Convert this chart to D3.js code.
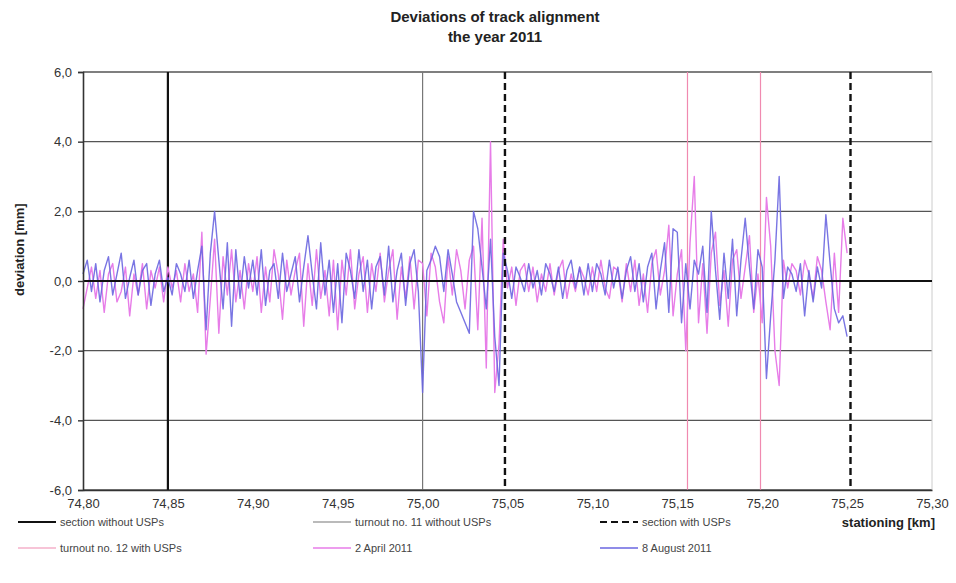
<!DOCTYPE html>
<html>
<head>
<meta charset="utf-8">
<style>
  body { margin: 0; background: #fff; font-family: "Liberation Sans", Arial, sans-serif; }
  svg text { fill: #222; }
</style>
<title>Deviations of track alignment</title>
</head>
<body>
<script src="https://cdn.jsdelivr.net/npm/d3@7"></script>
<script>

// sampling grid of the measurement (km), 0.0025 km step
var stations = d3.range(181).map(function(i) { return +(74.80 + i * 0.0025).toFixed(4); });

// 2 April 2011 (mm)
var april = [
  -0.8, -0.2, 0.4, -0.5, 0.3, -0.9, 0.2, 0.5, -0.6, -0.3, 0.4, -1.0, 0.2, -0.4, 0.5, -0.8, 0.3, -0.2, 0.4, -0.6,
  0.4, -0.2, 0.3, -0.6, 0.5, -0.3, 0.2, -0.9, 1.4, -2.1, -0.5, 1.2, -1.5, 0.7, -0.4, 0.9, -0.6, 0.3, -0.8, 0.5,
  -0.3, 0.7, -0.9, 0.4, -0.6, 0.9, 0.2, -1.1, 0.6, -0.4, 0.3, 0.8, -1.3, 0.5, -0.7, 0.9, -0.5, 0.3, -1.0, 0.6,
  -1.4, 0.6, -0.4, 0.9, -0.8, 0.2, 0.7, -0.9, 0.5, -0.3, 0.8, -0.6, 0.3, 0.9, -1.1, 0.4, -0.5, 0.7, -0.8, 0.6,
  0.5, -1.0, 0.8, 0.4, -0.6, -1.2, 0.7, -0.4, 0.9, 0.3, -0.8, 0.6, 1.0, -1.4, 1.8, -2.5, 4.0, -3.2, -1.8, 1.2,
  -0.2, 0.4, -0.7, 0.3, 0.5, -0.3, 0.4, -0.6, 0.2, -0.3, 0.5, -0.4, 0.3, 0.6, -0.5, 0.2, -0.3, 0.4, 0.1, -0.4,
  0.4, -0.3, 0.6, -0.2, -0.5, 0.4, 0.3, -0.6, 0.5, -0.3, 0.6, -0.7, 0.2, -0.9, 0.5, 0.9, -0.4, 0.3, 1.6, -1.0,
  0.2, 0.9, -2.0, 1.1, 3.0, -1.2, 0.5, -1.5, 0.8, 1.4, -0.7, 0.3, -1.3, 0.6, 0.9, -0.5, 0.4, 1.3, -0.9, 0.2,
  -1.2, 2.4, 1.0, -2.0, -3.0, 0.6, -0.2, 0.5, 0.3, -0.4, 0.6, 0.2, -0.5, 0.7, 0.3, -0.6, -1.4, 0.8, -0.9, 1.8,
  0.8
];

// 8 August 2011 (mm)
var august = [
  0.2, 0.6, -0.3, 0.5, -0.6, 0.3, 0.7, -0.4, 0.2, 0.8, -0.5, 0.1, 0.6, -0.4, 0.3, 0.5, -0.7, 0.2, 0.6, -0.3,
  0.1, -0.4, 0.5, 0.2, -0.3, 0.6, -0.5, 0.3, 1.0, -1.4, 0.8, 2.0, 0.6, -0.8, 1.1, -1.3, 0.9, -0.5, 0.7, -0.2,
  0.6, -0.4, 0.9, -0.7, 0.3, 0.5, -0.5, 0.8, -0.3, 0.2, 0.7, -0.6, 0.4, 1.3, 0.2, -0.8, 1.1, -0.4, 0.6, -0.9,
  0.5, -1.2, 0.8, 0.3, -0.5, 0.9, -0.3, 0.6, -0.8, 0.4, 0.7, -0.4, 1.0, -0.6, 0.3, 0.8, -0.7, 0.5, 0.9, -0.3,
  -3.2, 0.3, 0.6, 1.0, 0.7, -0.3, 0.9, 0.2, -0.6, -0.9, -1.2, -1.5, 2.0, 1.5, 0.4, -0.8, 1.2, -1.6, -3.0, 0.8,
  0.3, -0.5, 0.4, 0.1, -0.3, 0.5, -0.2, 0.3, -0.4, 0.5, 0.2, -0.3, 0.4, -0.5, 0.3, 0.6, -0.2, 0.4, -0.4, 0.5,
  -0.3, 0.5, 0.2, -0.4, 0.6, -0.2, 0.4, -0.5, 0.3, 0.7, -0.3, 0.5, -0.6, 0.4, 0.8, -0.8, 0.3, 1.1, -0.9, 1.5,
  1.4, -1.2, 0.5, -0.8, 0.6, 0.2, 1.0, -0.9, 2.0, 0.3, -1.1, 0.8, -0.5, 1.2, -1.0, 0.6, 1.8, 0.4, -0.8, 0.9,
  0.4, -2.8, -1.0, 0.6, 3.0, -0.5, 0.4, 0.2, -0.3, 0.5, -1.0, 0.3, -0.6, 0.4, -0.2, 1.9, 0.5, -0.8, -1.2, -1.0,
  -1.6
];

// marker lines along the track (km)
var sectionWithout = [74.85];
var turnout11 = [75.00];
var sectionWith = [75.0485, 75.252];
var turnout12 = [75.156, 75.199];

var xTicks = [74.80, 74.85, 74.90, 74.95, 75.00, 75.05, 75.10, 75.15, 75.20, 75.25, 75.30];
var yTicks = [-6, -4, -2, 0, 2, 4, 6];

var legendItems = [
  {label: "section without USPs", color: "#111", width: 2.2, dash: null},
  {label: "turnout no. 11 without USPs", color: "#777", width: 1.2, dash: null},
  {label: "section with USPs", color: "#111", width: 2.2, dash: "7,4"},
  {label: "turnout no. 12 with USPs", color: "#f08ab0", width: 1.2, dash: null},
  {label: "2 April 2011", color: "#e77de8", width: 1.4, dash: null},
  {label: "8 August 2011", color: "#6a66e0", width: 1.4, dash: null}
];

var W = 956, H = 583;
var margin = {top: 72, right: 24, bottom: 93, left: 83};
var width = W - margin.left - margin.right,
    height = H - margin.top - margin.bottom;

// German style decimal comma, plain hyphen for negatives
var fmt = function(d) { return d3.format(".1f")(d).replace(".", ",").replace("\u2212", "-"); };
var fmtX = function(d) { return d3.format(".2f")(d).replace(".", ","); };

var x = d3.scaleLinear().domain([74.80, 75.30]).range([0, width]);
var y = d3.scaleLinear().domain([-6, 6]).range([height, 0]);

var svg = d3.select("body").append("svg")
    .attr("width", W)
    .attr("height", H);

// title
svg.append("text")
    .attr("x", 495).attr("y", 22)
    .attr("text-anchor", "middle")
    .style("font-size", "15px").style("font-weight", "bold")
    .text("Deviations of track alignment");
svg.append("text")
    .attr("x", 495).attr("y", 42)
    .attr("text-anchor", "middle")
    .style("font-size", "15px").style("font-weight", "bold")
    .text("the year 2011");

var g = svg.append("g")
    .attr("transform", "translate(" + margin.left + "," + margin.top + ")");

// horizontal gridlines
g.selectAll(".grid")
    .data(yTicks.filter(function(d) { return d !== 0; }))
  .enter().append("line")
    .attr("x1", 0).attr("x2", width)
    .attr("y1", function(d) { return y(d); })
    .attr("y2", function(d) { return y(d); })
    .style("stroke", "#555").style("stroke-width", 1.4);

// right border of plot area
g.append("line")
    .attr("x1", width).attr("x2", width)
    .attr("y1", 0).attr("y2", height)
    .style("stroke", "#ccc").style("stroke-width", 1);

// marker lines
function vlines(data, color, w, dash) {
  g.selectAll(null)
      .data(data)
    .enter().append("line")
      .attr("x1", function(d) { return x(d); })
      .attr("x2", function(d) { return x(d); })
      .attr("y1", 0).attr("y2", height)
      .style("stroke", color).style("stroke-width", w)
      .style("stroke-dasharray", dash);
}
vlines(sectionWithout, "#111", 2.2, null);
vlines(turnout11, "#777", 1.2, null);
vlines(turnout12, "#f08ab0", 1.2, null);

// measured series
var line = d3.line()
    .x(function(d) { return x(d[0]); })
    .y(function(d) { return y(d[1]); });

g.append("path")
    .datum(stations.map(function(s, i) { return [s, april[i]]; }))
    .attr("d", line)
    .style("fill", "none").style("stroke", "#e77de8").style("stroke-width", 1.4)
    .style("stroke-linejoin", "round");

g.append("path")
    .datum(stations.map(function(s, i) { return [s, august[i]]; }))
    .attr("d", line)
    .style("fill", "none").style("stroke", "#6a66e0").style("stroke-width", 1.4)
    .style("stroke-linejoin", "round").style("opacity", 0.9);

vlines(sectionWith, "#111", 2.4, "7,4");

// zero line
g.append("line")
    .attr("x1", 0).attr("x2", width)
    .attr("y1", y(0)).attr("y2", y(0))
    .style("stroke", "#111").style("stroke-width", 2);

// axes
var yAxis = g.append("g")
    .call(d3.axisLeft(y).tickValues(yTicks).tickFormat(fmt).tickSize(5).tickPadding(6));
var xAxis = g.append("g")
    .attr("transform", "translate(0," + height + ")")
    .call(d3.axisBottom(x).tickValues(xTicks).tickFormat(fmtX).tickSize(0).tickPadding(9));
[yAxis, xAxis].forEach(function(a) {
  a.select(".domain").style("stroke", "#333").style("stroke-width", 1.6);
  a.selectAll(".tick line").style("stroke", "#333").style("stroke-width", 1.4);
  a.selectAll("text").style("font-size", "13px").style("fill", "#333")
      .style("font-family", "'Liberation Sans', Arial, sans-serif");
});

// axis titles
svg.append("text")
    .attr("transform", "translate(24," + (margin.top + y(0.9)) + ") rotate(-90)")
    .attr("text-anchor", "middle")
    .style("font-size", "13px").style("font-weight", "bold")
    .text("deviation [mm]");
svg.append("text")
    .attr("x", 935).attr("y", 527)
    .attr("text-anchor", "end")
    .style("font-size", "13px").style("font-weight", "bold")
    .text("stationing [km]");

// legend
var legendPos = [[18, 522], [313, 522], [600, 522], [18, 548], [313, 548], [600, 548]];
var leg = svg.selectAll(".legend")
    .data(legendItems)
  .enter().append("g")
    .attr("transform", function(d, i) { return "translate(" + legendPos[i][0] + "," + legendPos[i][1] + ")"; });
leg.append("line")
    .attr("x1", 0).attr("x2", 38)
    .style("stroke", function(d) { return d.color; })
    .style("stroke-width", function(d) { return d.width; })
    .style("stroke-dasharray", function(d) { return d.dash; });
leg.append("text")
    .attr("x", 42).attr("y", 4)
    .style("font-size", "11px").style("fill", "#444")
    .text(function(d) { return d.label; });

</script>
</body>
</html>
